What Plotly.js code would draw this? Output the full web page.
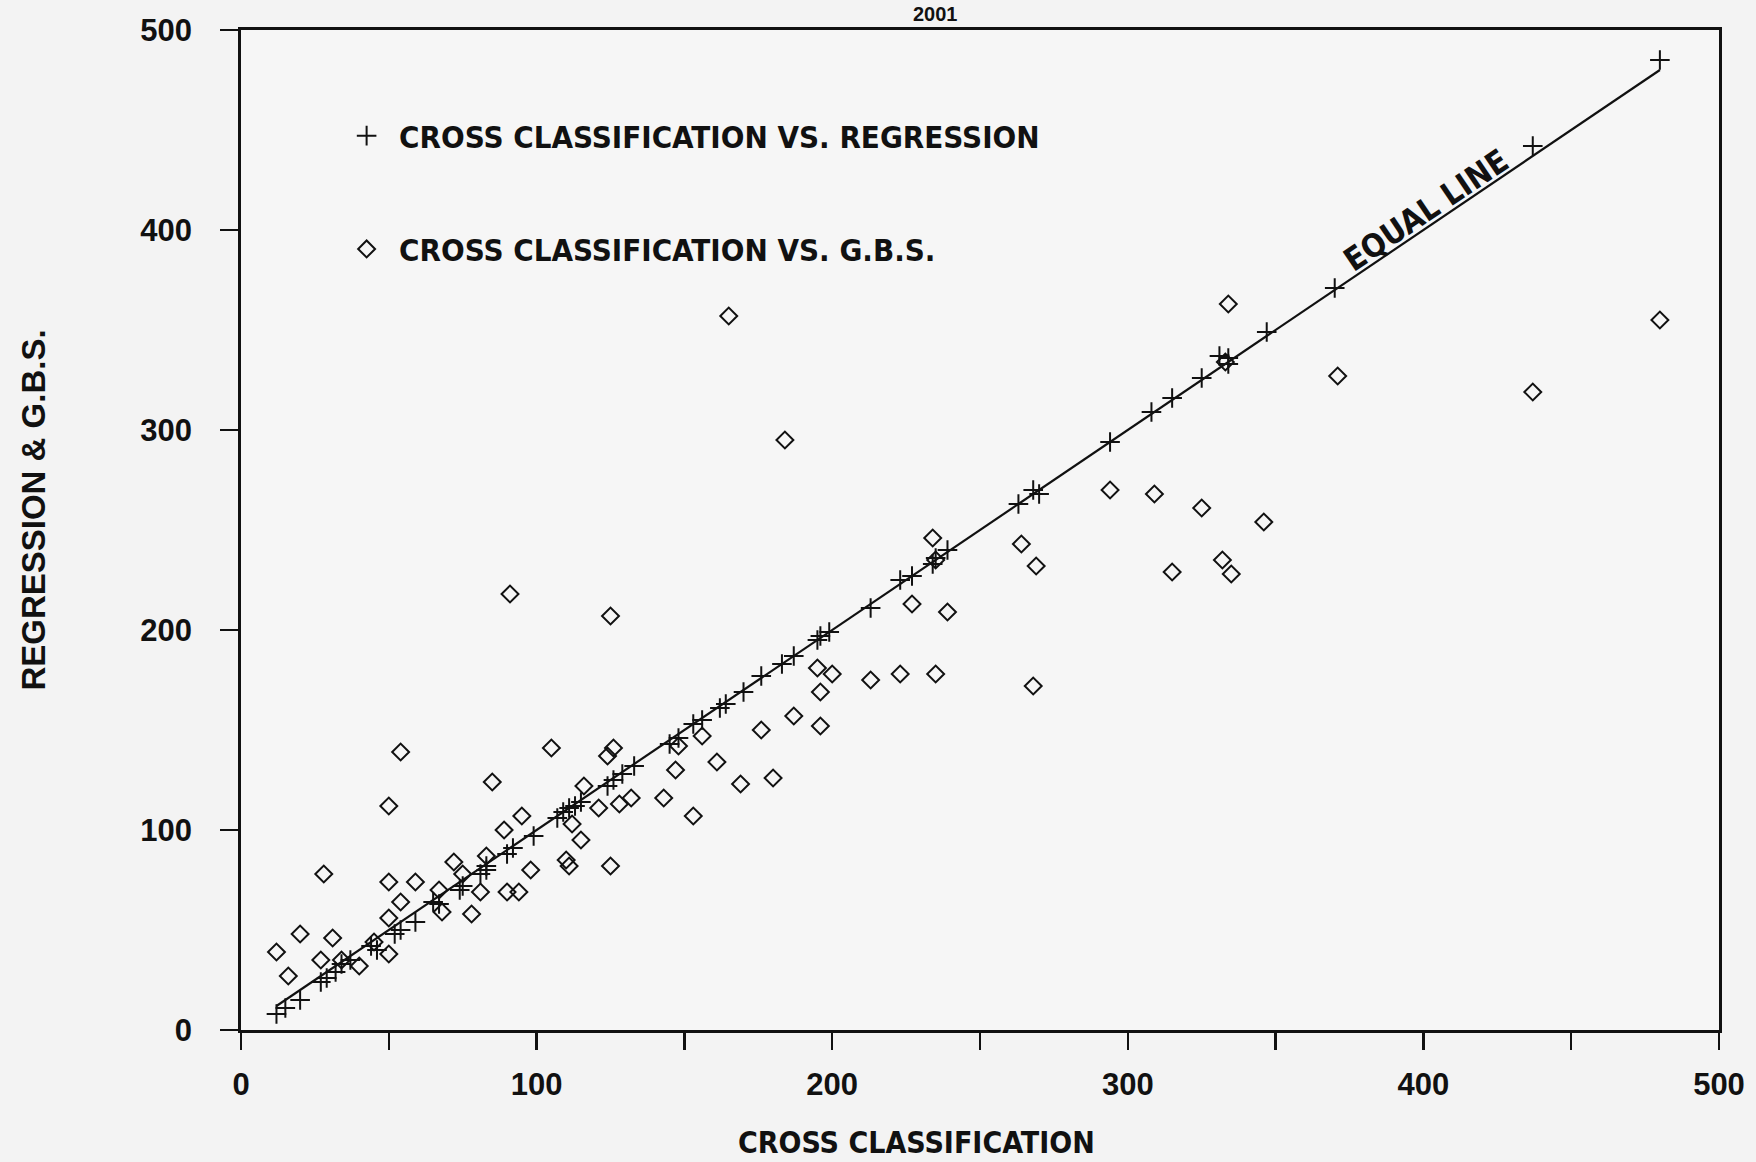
<!DOCTYPE html>
<html>
<head>
<meta charset="utf-8">
<script src="https://cdn.plot.ly/plotly-3.0.1.min.js"></script>
<style>
  html, body { margin: 0; padding: 0; background: #f3f3f3; }
  #chart { width: 1756px; height: 1162px; }
</style>
</head>
<body>
<div id="chart"></div>
<script>
// ---- Data ----
const chartTitle = "2001";
const xTitle = "CROSS CLASSIFICATION";
const yTitle = "REGRESSION & G.B.S.";
const seriesRegName = "CROSS CLASSIFICATION VS. REGRESSION";
const seriesGbsName = "CROSS CLASSIFICATION VS. G.B.S.";
const equalLineLabel = "EQUAL LINE";

// Cross classification vs. regression (+)
const regX = [12, 15, 20, 27, 29, 32, 34, 37, 44, 46, 52, 54, 59, 65, 67, 74, 75, 81, 83, 83,
  90, 92, 99, 107, 109, 111, 113, 115, 124, 126, 129, 133, 145, 148, 153, 156, 162, 164, 170, 176,
  183, 187, 195, 196, 199, 213, 223, 227, 234, 235, 239, 263, 268, 270, 294, 308, 315, 325, 331, 334,
  334, 347, 370, 437, 480];
const regY = [8, 11, 15, 24, 26, 29, 33, 35, 42, 40, 48, 50, 54, 64, 63, 70, 72, 78, 80, 82,
  88, 91, 97, 106, 109, 111, 112, 114, 122, 125, 128, 132, 143, 146, 153, 155, 161, 163, 169, 177,
  183, 187, 195, 197, 199, 211, 225, 227, 233, 236, 240, 263, 270, 268, 294, 309, 316, 326, 337, 336,
  333, 349, 371, 442, 485];

// Cross classification vs. G.B.S. (diamonds)
const gbsX = [12, 16, 20, 28, 27, 31, 34, 40, 45, 50, 50, 50, 54, 59, 50, 54, 67, 68, 72, 75,
  78, 81, 83, 85, 89, 90, 94, 91, 95, 98, 105, 110, 111, 112, 115, 116, 121, 125, 125, 124,
  126, 128, 132, 143, 147, 148, 153, 156, 161, 165, 169, 176, 180, 184, 187, 196, 196, 195, 200, 213,
  223, 235, 227, 239, 234, 235, 264, 269, 268, 294, 309, 325, 346, 315, 332, 335, 334, 333, 371, 437,
  480];
const gbsY = [39, 27, 48, 78, 35, 46, 35, 32, 44, 38, 56, 74, 64, 74, 112, 139, 70, 59, 84, 78,
  58, 69, 87, 124, 100, 69, 69, 218, 107, 80, 141, 85, 82, 103, 95, 122, 111, 82, 207, 137,
  141, 113, 116, 116, 130, 142, 107, 147, 134, 357, 123, 150, 126, 295, 157, 152, 169, 181, 178, 175,
  178, 178, 213, 209, 246, 235, 243, 232, 172, 270, 268, 261, 254, 229, 235, 228, 363, 334, 327, 319,
  355];

// Equal line (y = x) end points
const equalLine = [12, 480];

// ---- Styling ----
const ink = "#111111";
const narrow = "'Liberation Sans Narrow', 'DejaVu Sans Condensed', 'Arial Narrow', 'Liberation Sans', Arial, sans-serif";
const wide = "'Liberation Sans', Arial, Helvetica, sans-serif";

const traces = [
  {
    x: equalLine, y: equalLine, mode: "lines", type: "scatter",
    line: { color: ink, width: 2.2 }, showlegend: false, hoverinfo: "skip"
  },
  {
    x: regX, y: regY, mode: "markers", type: "scatter", name: seriesRegName,
    legendgroup: "a",
    marker: { symbol: "cross-thin-open", size: 14, color: ink, line: { color: ink, width: 2 } }
  },
  {
    x: gbsX, y: gbsY, mode: "markers", type: "scatter", name: seriesGbsName,
    legendgroup: "b",
    marker: { symbol: "diamond-open", size: 13, color: ink, line: { color: ink, width: 2 } }
  }
];

const axisCommon = {
  range: [0, 500],
  showgrid: false,
  zeroline: false,
  showline: true,
  linecolor: ink,
  linewidth: 2.8,
  mirror: true,
  ticks: "outside",
  tickcolor: ink,
  tickwidth: 2.2,
  tickfont: { family: wide, size: 31, color: ink, weight: "bold" },
  dtick: 100,
  tick0: 0
};

const layout = {
  width: 1756,
  height: 1162,
  margin: { l: 241, r: 37, t: 30, b: 132 },
  paper_bgcolor: "#f3f3f3",
  plot_bgcolor: "#f6f6f6",
  showlegend: true,
  legend: {
    x: 0.063, y: 0.921, xanchor: "left", yanchor: "top",
    bgcolor: "rgba(0,0,0,0)",
    font: { family: narrow, size: 31, color: ink, weight: "bold" },
    tracegroupgap: 70,
    itemwidth: 55
  },
  xaxis: Object.assign({}, axisCommon, {
    ticklen: 17,
    ticklabelstandoff: 8,
    minor: { dtick: 50, ticks: "outside", ticklen: 17, tickwidth: 2.2, tickcolor: ink }
  }),
  yaxis: Object.assign({}, axisCommon, {
    ticklen: 18,
    ticklabelstandoff: 22
  }),
  annotations: [
    {
      text: chartTitle, xref: "paper", yref: "paper", x: (935 - 241) / 1478, y: 1.003,
      xanchor: "center", yanchor: "bottom", showarrow: false,
      font: { family: wide, size: 20, color: ink, weight: "bold" }
    },
    {
      text: xTitle, xref: "paper", yref: "paper", x: (916 - 241) / 1478, y: -0.112,
      xanchor: "center", yanchor: "middle", showarrow: false,
      font: { family: narrow, size: 30, color: ink, weight: "bold" }
    },
    {
      text: yTitle, xref: "paper", yref: "paper", x: -0.141, y: 0.52,
      xanchor: "center", yanchor: "middle", showarrow: false, textangle: -90,
      font: { family: wide, size: 33, color: ink, weight: "bold" }
    },
    {
      text: equalLineLabel, xref: "x", yref: "y", x: 401, y: 410,
      xanchor: "center", yanchor: "middle", showarrow: false, textangle: -34,
      font: { family: narrow, size: 32, color: ink, weight: "bold" }
    }
  ]
};

Plotly.newPlot("chart", traces, layout, { displayModeBar: false, staticPlot: true });
</script>
</body>
</html>
